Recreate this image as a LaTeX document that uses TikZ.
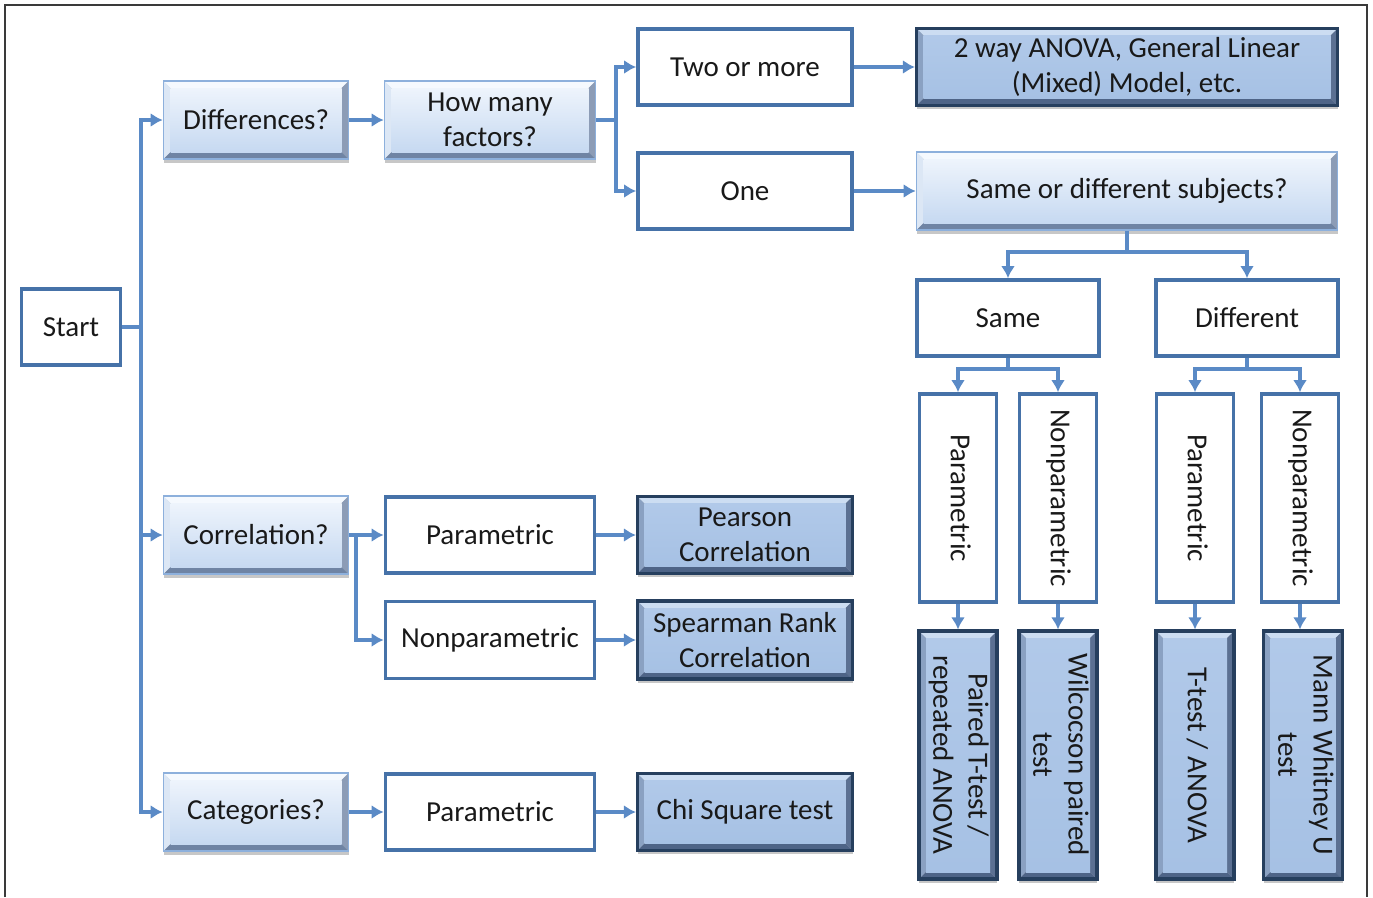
\documentclass[tikz,border=0pt]{standalone}
\usepackage{fontspec}
\setmainfont{Carlito}
\usepackage{graphicx}
\usetikzlibrary{arrows.meta,shadows}

\definecolor{linkblue}{HTML}{5A8AC6}
\definecolor{boxline}{HTML}{4672A8}
\definecolor{askline}{HTML}{8DB0DC}
\definecolor{resline}{HTML}{263F5E}
\definecolor{framegray}{HTML}{3A3A3A}
% bevel tones, light boxes
\definecolor{askT}{HTML}{F5F9FE}
\definecolor{askL}{HTML}{DCE7F5}
\definecolor{askR}{HTML}{8C9CB6}
\definecolor{askB}{HTML}{6F84A4}
\definecolor{askIT}{HTML}{EEF4FC}
\definecolor{askIB}{HTML}{C6D9F1}
% bevel tones, result boxes
\definecolor{resT}{HTML}{CCDDF2}
\definecolor{resL}{HTML}{8AA1C2}
\definecolor{resR}{HTML}{5B7092}
\definecolor{resB}{HTML}{4E6487}
\definecolor{resIT}{HTML}{B1C9E9}
\definecolor{resIB}{HTML}{A6C1E4}

\newlength{\bw}
\setlength{\bw}{0.14cm}
\newcommand{\vlabel}[1]{\rotatebox{-90}{\begin{tabular}{@{}c@{}}#1\end{tabular}}}

\tikzset{
    bevel/.style n args={6}{path picture={
        \path (path picture bounding box.south west) coordinate (bsw)
              (path picture bounding box.north east) coordinate (bne)
              (path picture bounding box.north west) coordinate (bnw)
              (path picture bounding box.south east) coordinate (bse);
        \path ([shift={(\bw,\bw)}]bsw) coordinate (isw)
              ([shift={(-\bw,-\bw)}]bne) coordinate (ine)
              ([shift={(\bw,-\bw)}]bnw) coordinate (inw)
              ([shift={(-\bw,\bw)}]bse) coordinate (ise);
        \fill[#1] (bnw) -- (bne) -- (ine) -- (inw) -- cycle;
        \fill[#2] (bnw) -- (inw) -- (isw) -- (bsw) -- cycle;
        \fill[#3] (bne) -- (bse) -- (ise) -- (ine) -- cycle;
        \fill[#4] (bsw) -- (isw) -- (ise) -- (bse) -- cycle;
        \shade[top color=#5, bottom color=#6] (isw) rectangle (ine);
    }},
    boxsize/.style 2 args={minimum width=#1*0.02cm, minimum height=#2*0.02cm}
}

\begin{document}
\begin{tikzpicture}[
        x=0.02cm, y=-0.02cm,
        every node/.style={inner sep=0pt, align=center, text=black!90,
            font=\fontsize{16.5}{20}\selectfont},
        plainbox/.style={draw=boxline, line width=2.1pt, fill=white},
        askbox/.style={draw=askline, line width=0.9pt,
            drop shadow={shadow xshift=0pt, shadow yshift=-0.7mm, opacity=0.22, fill=black},
            bevel={askT}{askL}{askR}{askB}{askIT}{askIB}},
        resultbox/.style={draw=resline, line width=1.8pt,
            drop shadow={shadow xshift=0pt, shadow yshift=-0.7mm, opacity=0.22, fill=black},
            bevel={resT}{resL}{resR}{resB}{resIT}{resIB}},
        link/.style={draw=linkblue, line width=2.2pt},
        arr/.style={link, -{Latex[length=2.4mm,width=2.8mm]}}
    ]
    \useasboundingbox (0,0) rectangle (1373,897);
    \draw[framegray, line width=0.9pt] (5,897) -- (5,5) -- (1367,5) -- (1367,897);

    % left column
    \node[plainbox, boxsize={99}{76}] (start) at (71,327) {Start};
    \node[askbox, boxsize={185}{78}] (diff) at (256,120) {Differences?};
    \node[askbox, boxsize={185}{78}] (corr) at (256,535) {Correlation?};
    \node[askbox, boxsize={185}{78}] (cat) at (256,812) {Categories?};

    % differences branch
    \node[askbox, boxsize={211}{78}] (howmany) at (490,120) {How many\\factors?};
    \node[plainbox, boxsize={214}{76}] (twomore) at (745,67) {Two or more};
    \node[plainbox, boxsize={214}{76}] (one) at (745,191) {One};
    \node[resultbox, boxsize={421}{77}] (anova2) at (1127,67) {2 way ANOVA, General Linear\\(Mixed) Model, etc.};
    \node[askbox, boxsize={421}{78}] (sods) at (1127,191) {Same or different subjects?};
    \node[plainbox, boxsize={182}{76}] (same) at (1008,318) {Same};
    \node[plainbox, boxsize={182}{76}] (differ) at (1247,318) {Different};

    \node[plainbox, boxsize={77}{208}] (par1) at (958,498) {\vlabel{Parametric}};
    \node[plainbox, boxsize={77}{208}] (np1) at (1058,498) {\vlabel{Nonparametric}};
    \node[plainbox, boxsize={77}{208}] (par2) at (1195,498) {\vlabel{Parametric}};
    \node[plainbox, boxsize={77}{208}] (np2) at (1300,498) {\vlabel{Nonparametric}};

    \node[resultbox, boxsize={78}{248}] (paired) at (958,755) {\vlabel{Paired T-test /\\repeated ANOVA}};
    \node[resultbox, boxsize={78}{248}] (wilc) at (1058,755) {\vlabel{Wilcocson paired\\test}};
    \node[resultbox, boxsize={78}{248}] (ttest) at (1195,755) {\vlabel{T-test / ANOVA}};
    \node[resultbox, boxsize={79}{248}] (mann) at (1303,755) {\vlabel{Mann Whitney U\\test}};

    % correlation branch
    \node[plainbox, boxsize={209}{76}] (cpar) at (490,535) {Parametric};
    \node[plainbox, boxsize={209}{77}] (cnp) at (490,640) {Nonparametric};
    \node[resultbox, boxsize={215}{77}] (pear) at (745,535) {Pearson\\Correlation};
    \node[resultbox, boxsize={215}{78}] (spear) at (745,640) {Spearman Rank\\Correlation};

    % categories branch
    \node[plainbox, boxsize={209}{76}] (catpar) at (490,812) {Parametric};
    \node[resultbox, boxsize={215}{77}] (chi) at (745,812) {Chi Square test};

    % forks
    \coordinate (startfork) at (141,327);
    \coordinate (hmfork) at (616,120);
    \coordinate (corrfork) at (356,535);
    \coordinate (sodsfork) at (1127,252);
    \coordinate (samefork) at (1008,369);
    \coordinate (differfork) at (1247,369);

    \draw[arr] (start.east) -- (startfork) |- (diff.west);
    \draw[arr] (start.east) -- (startfork) |- (corr.west);
    \draw[arr] (start.east) -- (startfork) |- (cat.west);

    \draw[arr] (diff.east) -- (howmany.west);
    \draw[arr] (howmany.east) -- (hmfork) |- (twomore.west);
    \draw[arr] (howmany.east) -- (hmfork) |- (one.west);
    \draw[arr] (twomore.east) -- (anova2.west);
    \draw[arr] (one.east) -- (sods.west);

    \draw[arr] (sods.south) -- (sodsfork) -| (same.north);
    \draw[arr] (sods.south) -- (sodsfork) -| (differ.north);
    \draw[arr] (same.south) -- (samefork) -| (par1.north);
    \draw[arr] (same.south) -- (samefork) -| (np1.north);
    \draw[arr] (differ.south) -- (differfork) -| (par2.north);
    \draw[arr] (differ.south) -- (differfork) -| (np2.north);

    \draw[arr] (par1.south) -- (paired.north);
    \draw[arr] (np1.south) -- (wilc.north);
    \draw[arr] (par2.south) -- (ttest.north);
    \draw[arr] (np2.south) -- (np2.south |- mann.north);

    \draw[arr] (corr.east) -- (cpar.west);
    \draw[arr] (corr.east) -- (corrfork) |- (cnp.west);
    \draw[arr] (cpar.east) -- (pear.west);
    \draw[arr] (cnp.east) -- (spear.west);

    \draw[arr] (cat.east) -- (catpar.west);
    \draw[arr] (catpar.east) -- (chi.west);
\end{tikzpicture}
\end{document}
